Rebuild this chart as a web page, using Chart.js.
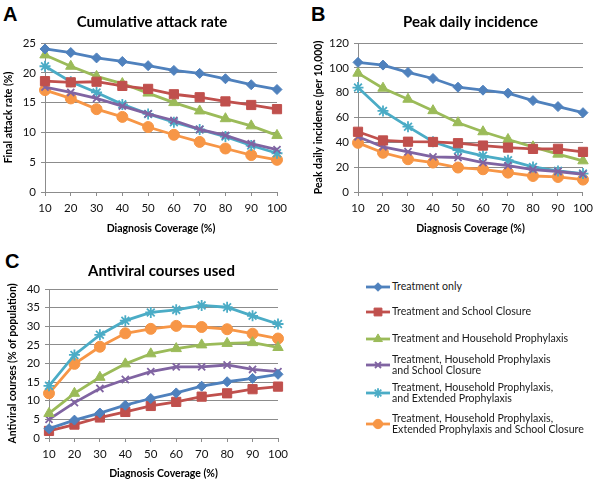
<!DOCTYPE html>
<html><head><meta charset="utf-8">
<script src="https://cdn.jsdelivr.net/npm/chart.js@4/dist/chart.umd.min.js"></script>
<style>
html,body{margin:0;padding:0;background:#fff;}
body{width:598px;height:483px;position:relative;overflow:hidden;font-family:Lato,"Open Sans",sans-serif;}
canvas.cv{position:absolute;}
.letter{position:absolute;font:bold 20px "Liberation Sans",Arial,sans-serif;color:#000;}
.item{position:absolute;left:366px;display:flex;align-items:center;}
.item canvas{width:24px;height:14px;flex:none;}
.item span{font:10.6px Lato,sans-serif;line-height:11.5px;color:#1a1a1a;margin-left:2px;white-space:nowrap;}
</style></head>
<body>
<div class="letter" style="left:3px;top:3px;">A</div>
<div class="letter" style="left:311px;top:3px;">B</div>
<div class="letter" style="left:5px;top:250px;">C</div>
<canvas id="chA" class="cv" width="298" height="240" style="left:0;top:0;width:298px;height:240px"></canvas>
<canvas id="chB" class="cv" width="298" height="240" style="left:300px;top:0;width:298px;height:240px"></canvas>
<canvas id="chC" class="cv" width="300" height="243" style="left:0;top:240px;width:300px;height:243px"></canvas>
<div id="legend"></div>
<script>
// ---- Data ----
const coverage = ['10','20','30','40','50','60','70','80','90','100'];
const seriesNames = [
  'Treatment only',
  'Treatment and School Closure',
  'Treatment and Household Prophylaxis',
  'Treatment, Household Prophylaxis\nand School Closure',
  'Treatment, Household Prophylaxis,\nand Extended Prophylaxis',
  'Treatment, Household Prophylaxis,\nExtended Prophylaxis and School Closure'
];
// Panel A: final attack rate (%)
const attackTreatOnly   = [24.0, 23.4, 22.5, 21.9, 21.2, 20.4, 19.9, 19.0, 18.0, 17.2];
const attackSchool      = [18.6, 18.4, 18.5, 17.8, 17.3, 16.4, 15.9, 15.2, 14.6, 13.9];
const attackHousehold   = [23.0, 21.1, 19.4, 18.2, 16.6, 15.0, 13.6, 12.3, 11.1, 9.5];
const attackHHSchool    = [17.6, 16.7, 15.7, 14.4, 13.1, 12.0, 10.5, 9.5, 8.1, 7.1];
const attackHHExtended  = [21.1, 18.5, 16.7, 14.7, 13.1, 11.7, 10.5, 9.3, 7.8, 6.5];
const attackAll         = [17.1, 15.7, 13.9, 12.6, 10.9, 9.6, 8.4, 7.3, 6.2, 5.4];
// Panel B: peak daily incidence (per 10,000)
const peakTreatOnly     = [104.4, 102.2, 96.3, 91.4, 84.4, 82.0, 79.6, 73.6, 68.8, 63.9];
const peakSchool        = [48.5, 41.5, 40.5, 40.3, 39.3, 37.4, 35.8, 34.7, 34.8, 32.3];
const peakHousehold     = [95.7, 83.6, 74.7, 65.5, 55.8, 48.5, 42.3, 36.4, 30.5, 25.1];
const peakHHSchool      = [44.5, 36.4, 32.4, 28.3, 27.8, 23.7, 21.3, 18.1, 16.5, 14.3];
const peakHHExtended    = [84.1, 65.3, 52.6, 40.5, 33.7, 29.1, 25.6, 20.2, 17.0, 14.8];
const peakAll           = [39.6, 31.6, 26.4, 23.7, 19.7, 18.3, 15.6, 12.9, 12.1, 10.0];
// Panel C: antiviral courses used (% of population)
const avTreatOnly       = [2.5, 4.8, 6.7, 8.8, 10.6, 12.1, 13.9, 15.1, 16.0, 17.1];
const avSchool          = [1.9, 3.6, 5.5, 7.0, 8.6, 9.7, 11.1, 12.0, 13.1, 13.8];
const avHousehold       = [6.6, 12.0, 16.3, 19.9, 22.6, 24.0, 25.0, 25.4, 25.6, 24.3];
const avHHSchool        = [5.0, 9.5, 13.3, 15.7, 17.8, 19.1, 19.1, 19.6, 18.4, 17.8];
const avHHExtended      = [14.0, 22.3, 27.7, 31.5, 33.7, 34.4, 35.6, 35.1, 32.8, 30.6];
const avAll             = [12.0, 19.9, 24.5, 28.1, 29.3, 30.1, 29.8, 29.2, 28.0, 26.7];
const ticksA = [0,5,10,15,20,25];
const ticksB = [0,20,40,60,80,100,120];
const ticksC = [0,5,10,15,20,25,30,35,40];

// ---- Styles ----
const colors = ['#4F81BD','#C0504D','#9BBB59','#8064A2','#4BACC6','#F79646'];
const pStyles = ['rectRot','rect','triangle','crossRot','star','circle'];
const pRadius = [5, 6.5, 6, 5, 5.5, 5.5];
const gridCol = '#8c8c8c';
const FONT = 'Lato';

const panelTitle = {
  id: 'panelTitle',
  afterDraw(chart, args, o) {
    const {ctx, chartArea} = chart;
    ctx.save();
    ctx.font = 'bold 15px ' + FONT;
    ctx.fillStyle = '#000';
    ctx.textAlign = 'center';
    ctx.textBaseline = 'middle';
    ctx.fillText(o.text, (chartArea.left + chartArea.right) / 2 + (o.dx || 0), o.y);
    ctx.restore();
  }
};

function makeChart(id, cfg) {
  const datasets = cfg.data.map((d, i) => ({
    label: seriesNames[i].replace('\n', ' '),
    data: d,
    borderColor: colors[i],
    backgroundColor: colors[i],
    pointBackgroundColor: colors[i],
    pointBorderColor: colors[i],
    pointStyle: pStyles[i],
    pointRadius: pRadius[i],
    pointBorderWidth: (i === 3 || i === 4) ? 1.8 : 1,
    borderWidth: 2.8,
    tension: 0,
    fill: false
  }));
  return new Chart(document.getElementById(id), {
    type: 'line',
    data: { labels: coverage, datasets },
    plugins: [panelTitle],
    options: {
      responsive: false,
      animation: false,
      layout: { padding: { top: cfg.top, right: cfg.right, left: 0, bottom: 0 } },
      plugins: {
        legend: { display: false },
        tooltip: { enabled: false },
        panelTitle: { text: cfg.title, y: cfg.titleY, dx: cfg.titleDx }
      },
      scales: {
        x: {
          offset: false,
          grid: { drawOnChartArea: false, drawTicks: true, tickLength: 4, color: gridCol },
          border: { color: gridCol, width: 1 },
          ticks: { color: '#111', font: { family: FONT, size: 11.5 }, padding: 5, maxRotation: 0, autoSkip: false },
          title: { display: true, text: 'Diagnosis Coverage (%)', color: '#000',
                   font: { family: FONT, size: 10.5, weight: 'bold' }, padding: { top: 0, bottom: cfg.xtPad } },
          afterFit: s => { s.height = cfg.xh; }
        },
        y: {
          min: 0, max: cfg.max,
          afterBuildTicks: s => { s.ticks = cfg.ticks.map(v => ({ value: v })); },
          grid: { color: gridCol, tickLength: 4, drawTicks: true },
          border: { color: gridCol, width: 1 },
          ticks: { color: '#111', font: { family: FONT, size: 11.5 }, padding: 5 },
          title: { display: true, text: cfg.yTitle, color: '#000',
                   font: { family: FONT, size: 10.5, weight: 'bold' }, padding: { top: cfg.ytPad, bottom: 0 } },
          afterFit: s => { s.width = cfg.yw; }
        }
      }
    }
  });
}

makeChart('chA', {
  data: [attackTreatOnly, attackSchool, attackHousehold, attackHHSchool, attackHHExtended, attackAll],
  title: 'Cumulative attack rate', titleY: 22, titleDx: -9,
  yTitle: 'Final attack rate (%)', max: 25, ticks: ticksA,
  top: 43, right: 21, yw: 45, xh: 48, xtPad: 5, ytPad: 2
});
makeChart('chB', {
  data: [peakTreatOnly, peakSchool, peakHousehold, peakHHSchool, peakHHExtended, peakAll],
  title: 'Peak daily incidence', titleY: 22, titleDx: 0,
  yTitle: 'Peak daily incidence (per 10,000)', max: 120, ticks: ticksB,
  top: 43, right: 11, yw: 58, xh: 48, xtPad: 5, ytPad: 12
});
makeChart('chC', {
  data: [avTreatOnly, avSchool, avHousehold, avHHSchool, avHHExtended, avAll],
  title: 'Antiviral courses used', titleY: 31, titleDx: -2,
  yTitle: 'Antiviral courses (% of population)', max: 40, ticks: ticksC,
  top: 49, right: 22, yw: 49, xh: 45, xtPad: 3, ytPad: 6
});

// ---- Legend (HTML) ----
const legendY = [287, 312, 339, 365, 393, 424];
const legend = document.getElementById('legend');
seriesNames.forEach((name, i) => {
  const div = document.createElement('div');
  div.className = 'item';
  const c = document.createElement('canvas');
  c.width = 24; c.height = 14;
  const sp = document.createElement('span');
  sp.innerHTML = name.replace('\n', '<br>');
  div.appendChild(c); div.appendChild(sp);
  legend.appendChild(div);
  div.style.top = (legendY[i] - div.offsetHeight / 2) + 'px';
  const ctx = c.getContext('2d');
  ctx.strokeStyle = colors[i]; ctx.lineWidth = 2.8;
  ctx.beginPath(); ctx.moveTo(0, 7); ctx.lineTo(24, 7); ctx.stroke();
  ctx.fillStyle = colors[i];
  ctx.lineWidth = (i === 3 || i === 4) ? 1.8 : 1;
  if (Chart.helpers && Chart.helpers.drawPoint) {
    Chart.helpers.drawPoint(ctx, { pointStyle: pStyles[i], radius: pRadius[i] * 0.85, borderWidth: ctx.lineWidth, rotation: 0 }, 12, 7);
  }
});
</script>
</body></html>
